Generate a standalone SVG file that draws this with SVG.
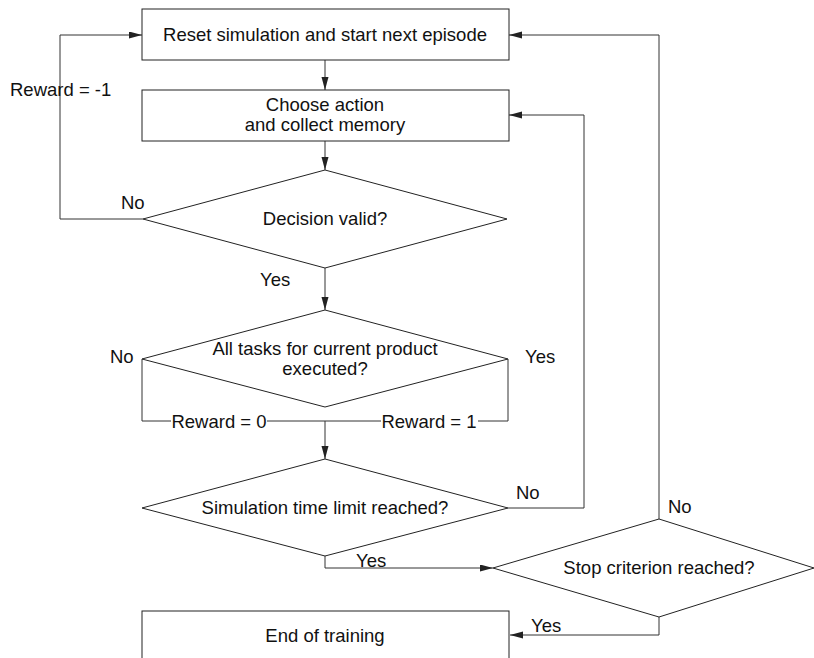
<svg xmlns="http://www.w3.org/2000/svg" width="814" height="658" viewBox="0 0 814 658">
<style>
  .shape { fill: #fff; stroke: #222; stroke-width: 1; }
  .conn { fill: none; stroke: #333; stroke-width: 1; }
  text { font-family: "Liberation Sans", Arial, sans-serif; font-size: 18.5px; fill: #111; }
  .c { text-anchor: middle; }
</style>
<defs>
  <marker id="arr" markerUnits="userSpaceOnUse" markerWidth="14" markerHeight="8" refX="13" refY="3.5" orient="auto">
    <path d="M0,0 L13,3.5 L0,7 z" fill="#222"/>
  </marker>
</defs>
<rect width="814" height="658" fill="#fff"/>
<g id="connectors">
  <path class="conn" d="M325,60 V90" marker-end="url(#arr)"/>
  <path class="conn" d="M325,141 V170" marker-end="url(#arr)"/>
  <path class="conn" d="M143,219 H60 V35 H142" marker-end="url(#arr)"/>
  <path class="conn" d="M325,268 V310" marker-end="url(#arr)"/>
  <path class="conn" d="M142,359 V421 H171 M267,421 H325"/>
  <path class="conn" d="M508,359 V421 H478 M381,421 H325"/>
  <path class="conn" d="M325,421 V459" marker-end="url(#arr)"/>
  <path class="conn" d="M508,508 H584 V115 H509" marker-end="url(#arr)"/>
  <path class="conn" d="M325,556 V568 H493" marker-end="url(#arr)"/>
  <path class="conn" d="M659,519 V35 H509" marker-end="url(#arr)"/>
  <path class="conn" d="M659,617 V635 H510" marker-end="url(#arr)"/>
</g>
<g id="labels">
  <text x="10" y="96">Reward = -1</text>
  <text x="121" y="209">No</text>
  <text x="260" y="286">Yes</text>
  <text x="110" y="363">No</text>
  <text x="525" y="363">Yes</text>
  <text x="219" y="428" class="c">Reward = 0</text>
  <text x="429" y="428" class="c">Reward = 1</text>
  <text x="516" y="499">No</text>
  <text x="356" y="567">Yes</text>
  <text x="668" y="513">No</text>
  <text x="531" y="632">Yes</text>
</g>
<g id="reset">
  <rect class="shape" x="142" y="9" width="367" height="51"/>
  <text x="325" y="41" class="c">Reset simulation and start next episode</text>
</g>
<g id="choose">
  <rect class="shape" x="142" y="90" width="367" height="51"/>
  <text x="325" y="111" class="c">Choose action</text>
  <text x="325" y="131" class="c">and collect memory</text>
</g>
<g id="decision-valid">
  <polygon class="shape" points="325,170 507,219 325,268 143,219"/>
  <text x="325" y="225" class="c">Decision valid?</text>
</g>
<g id="all-tasks">
  <polygon class="shape" points="325,310 508,359 325,407 142,359"/>
  <text x="325" y="355" class="c">All tasks for current product</text>
  <text x="325" y="375" class="c">executed?</text>
</g>
<g id="time-limit">
  <polygon class="shape" points="325,459 508,508 325,556 142,508"/>
  <text x="325" y="514" class="c">Simulation time limit reached?</text>
</g>
<g id="stop">
  <polygon class="shape" points="659,519 814,568 659,617 493,568"/>
  <text x="659" y="574" class="c">Stop criterion reached?</text>
</g>
<g id="end">
  <rect class="shape" x="142" y="611" width="367" height="52"/>
  <text x="325" y="642" class="c">End of training</text>
</g>
</svg>
